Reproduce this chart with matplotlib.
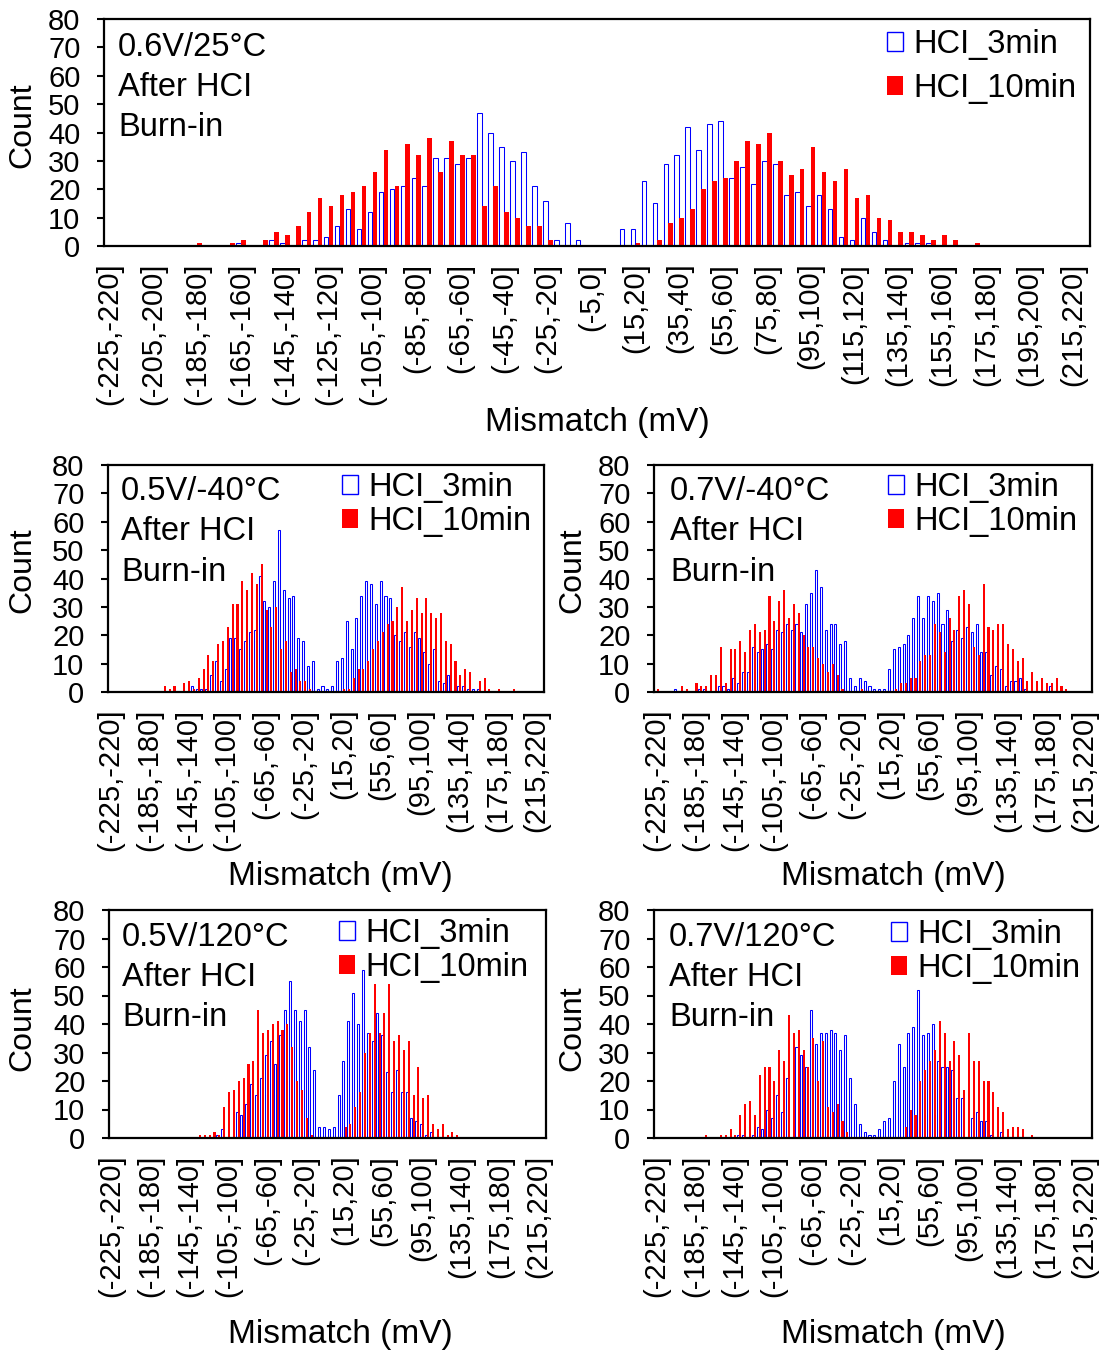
import matplotlib
matplotlib.use("Agg")
import matplotlib.pyplot as plt
from matplotlib.patches import Patch
import numpy as np

plt.rcParams['font.family'] = ['Liberation Sans', 'DejaVu Sans']

# Mismatch bins (mV): (-225,-220] ... (215,220]
bin_lows = list(range(-225, 220, 5))
bin_labels = [f"({lo},{lo + 5}]" for lo in bin_lows]

# Counts per bin, 89 bins each
v06_25c_3min = [
    0, 0, 0, 0, 0, 0, 0, 0, 0, 0,
    0, 0, 1, 0, 0, 2, 1, 0, 2, 2,
    3, 7, 13, 6, 12, 19, 20, 21, 24, 21,
    31, 31, 29, 31, 47, 40, 35, 30, 33, 21,
    16, 2, 8, 2, 0, 0, 0, 6, 6, 23,
    15, 29, 32, 42, 34, 43, 44, 24, 28, 22,
    30, 29, 18, 19, 14, 18, 13, 3, 2, 10,
    5, 2, 0, 1, 1, 1, 0, 0, 0, 0,
    0, 0, 0, 0, 0, 0, 0, 0, 0]
v06_25c_10min = [
    0, 0, 0, 0, 0, 0, 0, 0, 1, 0,
    0, 1, 2, 0, 2, 5, 4, 7, 12, 17,
    14, 18, 19, 21, 26, 34, 21, 36, 32, 38,
    26, 37, 32, 32, 14, 21, 12, 10, 7, 7,
    2, 0, 0, 0, 0, 0, 0, 0, 1, 0,
    2, 8, 10, 13, 20, 23, 24, 30, 37, 36,
    40, 30, 25, 27, 35, 26, 23, 27, 17, 18,
    10, 9, 5, 5, 4, 2, 4, 2, 0, 1,
    0, 0, 0, 0, 0, 0, 0, 0, 0]

v05_m40c_3min = [
    0, 0, 0, 0, 0, 0, 0, 0, 0, 0,
    0, 0, 0, 0, 0, 0, 0, 2, 1, 1,
    1, 6, 11, 4, 8, 19, 19, 15, 18, 21,
    22, 41, 32, 30, 39, 57, 36, 33, 34, 19,
    18, 9, 11, 1, 2, 1, 2, 11, 12, 25,
    15, 26, 34, 39, 38, 31, 39, 34, 33, 20,
    18, 21, 16, 21, 19, 14, 10, 15, 4, 3,
    6, 0, 2, 2, 1, 1, 1, 0, 0, 0,
    0, 0, 0, 0, 0, 0, 0, 0, 0]
v05_m40c_10min = [
    0, 0, 0, 0, 0, 0, 0, 0, 0, 0,
    0, 2, 1, 2, 0, 3, 4, 1, 5, 8,
    13, 11, 17, 18, 23, 31, 31, 39, 36, 42,
    38, 45, 29, 23, 30, 15, 18, 7, 8, 4,
    4, 1, 0, 0, 0, 0, 0, 0, 1, 1,
    5, 8, 8, 11, 15, 18, 21, 24, 25, 30,
    37, 25, 29, 33, 28, 33, 28, 26, 28, 18,
    17, 11, 6, 8, 7, 0, 4, 5, 1, 0,
    1, 0, 0, 1, 0, 0, 0, 0, 0]

v07_m40c_3min = [
    0, 0, 0, 0, 1, 0, 0, 0, 0, 1,
    1, 0, 0, 2, 2, 1, 5, 3, 7, 7,
    16, 14, 15, 17, 15, 22, 21, 24, 22, 24,
    21, 31, 35, 43, 37, 22, 24, 24, 17, 18,
    5, 2, 5, 4, 2, 1, 1, 1, 8, 15,
    16, 17, 20, 26, 34, 26, 34, 32, 35, 24,
    29, 18, 22, 19, 23, 21, 24, 14, 14, 6,
    9, 8, 2, 4, 4, 5, 1, 0, 0, 0,
    0, 2, 0, 0, 0, 0, 0, 0, 0]
v07_m40c_10min = [
    1, 0, 0, 0, 0, 2, 1, 0, 3, 2,
    2, 6, 6, 16, 3, 15, 15, 18, 14, 22,
    24, 21, 22, 34, 25, 32, 36, 26, 31, 28,
    20, 16, 16, 12, 10, 7, 10, 6, 1, 0,
    0, 0, 1, 0, 0, 0, 0, 0, 0, 1,
    3, 3, 5, 5, 11, 13, 13, 24, 21, 14,
    26, 22, 34, 36, 31, 16, 13, 38, 23, 22,
    24, 24, 17, 15, 11, 12, 4, 7, 4, 5,
    3, 3, 5, 2, 1, 0, 0, 0, 0]

v05_120c_3min = [
    0, 0, 0, 0, 0, 0, 0, 0, 0, 0,
    0, 0, 0, 0, 0, 0, 0, 0, 0, 0,
    0, 0, 1, 3, 0, 0, 9, 8, 12, 19,
    15, 21, 29, 34, 26, 36, 45, 55, 45, 41,
    45, 32, 24, 4, 4, 3, 4, 15, 27, 41,
    51, 40, 59, 37, 34, 44, 36, 23, 16, 24,
    16, 16, 7, 6, 5, 1, 2, 0, 0, 0,
    0, 0, 0, 0, 0, 0, 0, 0, 0, 0,
    0, 0, 0, 0, 0, 0, 0, 0, 0]
v05_120c_10min = [
    0, 0, 0, 0, 0, 0, 0, 0, 0, 0,
    0, 0, 0, 0, 0, 0, 0, 0, 1, 1,
    1, 2, 1, 11, 16, 17, 20, 21, 26, 27,
    45, 37, 38, 40, 41, 38, 40, 32, 20, 17,
    7, 1, 0, 0, 0, 0, 0, 0, 4, 5,
    11, 16, 30, 37, 54, 37, 44, 54, 34, 36,
    31, 34, 15, 25, 14, 15, 5, 3, 5, 1,
    2, 1, 0, 0, 0, 0, 0, 0, 0, 0,
    0, 0, 0, 0, 0, 0, 0, 0, 0]

v07_120c_3min = [
    0, 0, 0, 0, 0, 0, 0, 0, 0, 0,
    0, 0, 0, 0, 0, 0, 0, 1, 1, 0,
    1, 4, 3, 10, 7, 15, 9, 21, 0, 32,
    29, 25, 45, 33, 37, 37, 38, 37, 31, 36,
    21, 12, 5, 2, 1, 1, 3, 6, 7, 20,
    33, 25, 37, 39, 52, 36, 37, 40, 27, 25,
    25, 24, 14, 14, 0, 7, 9, 6, 6, 1,
    0, 2, 0, 0, 0, 0, 0, 0, 0, 0,
    0, 0, 0, 0, 0, 0, 0, 0, 0]
v07_120c_10min = [
    0, 0, 0, 0, 0, 0, 0, 0, 0, 0,
    1, 0, 0, 1, 1, 3, 1, 8, 12, 13,
    8, 22, 25, 25, 20, 31, 27, 43, 37, 38,
    31, 25, 35, 20, 34, 11, 9, 12, 6, 2,
    0, 0, 0, 0, 0, 0, 0, 0, 0, 0,
    0, 4, 10, 8, 20, 24, 27, 31, 41, 37,
    27, 34, 29, 17, 37, 27, 27, 20, 20, 16,
    11, 9, 3, 4, 4, 3, 0, 1, 0, 0,
    0, 0, 0, 0, 0, 0, 0, 0, 0]

series_names = ["HCI_3min", "HCI_10min"]
y_ticks = list(range(0, 81, 10))

W, H = 1103, 1356
BLUE = "#0000FF"
RED = "#FF0000"

fig = plt.figure(figsize=(W / 100, H / 100), dpi=100)


def fx(x):
    return x / W


def fy(y):
    return 1 - y / H


def panel(box, blue, red, step, cond, legend_xy, legend_gap, count_xy, xlabel_xy):
    x0, y0, x1, y1 = box
    ax = fig.add_axes([fx(x0), fy(y1), fx(x1) - fx(x0), fy(y0) - fy(y1)])
    idx = np.arange(len(bin_labels))
    ax.bar(idx - 0.22, blue, width=0.42, facecolor="white",
           edgecolor=BLUE, linewidth=0.75, zorder=2)
    ax.bar(idx + 0.23, red, width=0.42, color=RED, linewidth=0, zorder=2)
    ax.set_xlim(-0.5, len(bin_labels) + 0.5)
    ax.set_ylim(0, 80)
    ax.set_yticks(y_ticks)
    ax.set_xticks(idx[::step])
    ax.set_xticklabels(bin_labels[::step], rotation=90, fontsize=21)
    ax.tick_params(axis="x", length=0, pad=12)
    ax.tick_params(axis="y", length=5, width=1.5, pad=12, labelsize=21)
    for s in ax.spines.values():
        s.set_linewidth(1.6)
        s.set_zorder(5)
    # condition text
    tx, ty, dy = cond[1]
    for k, line in enumerate(cond[0]):
        fig.text(fx(tx), fy(ty + k * dy), line, fontsize=23.5,
                 ha="left", va="center")
    handles = [Patch(facecolor="white", edgecolor=BLUE, linewidth=1.0),
               Patch(facecolor=RED, edgecolor=RED, linewidth=0)]
    ax.legend(handles, series_names, loc="upper left",
              bbox_to_anchor=(fx(legend_xy[0]), fy(legend_xy[1])),
              bbox_transform=fig.transFigure, frameon=False, fontsize=23.5,
              handlelength=0.5, handleheight=0.5, handletextpad=0.32,
              labelspacing=legend_gap, borderpad=0, borderaxespad=0)
    fig.text(fx(count_xy[0]), fy(count_xy[1]), "Count", rotation=90,
             fontsize=23, ha="center", va="center")
    fig.text(fx(xlabel_xy[0]), fy(xlabel_xy[1]), "Mismatch (mV)",
             fontsize=24, ha="center", va="center")
    return ax


panel((104, 19, 1090, 246), v06_25c_3min, v06_25c_10min, 4,
      (["0.6V/25°C", "After HCI", "Burn-in"], (118, 47, 40)),
      (887, 29), 0.41, (22, 125), (597, 423))
panel((108, 465, 544, 692), v05_m40c_3min, v05_m40c_10min, 8,
      (["0.5V/-40°C", "After HCI", "Burn-in"], (121, 492, 40)),
      (342, 472), 0.10, (22, 570), (340, 877))
panel((654, 465, 1092, 692), v07_m40c_3min, v07_m40c_10min, 8,
      (["0.7V/-40°C", "After HCI", "Burn-in"], (670, 492, 40)),
      (888, 472), 0.10, (572, 570), (893, 877))
panel((109, 910, 546, 1138), v05_120c_3min, v05_120c_10min, 8,
      (["0.5V/120°C", "After HCI", "Burn-in"], (122, 938, 40)),
      (339, 918), 0.10, (22, 1028), (340, 1335))
panel((654, 910, 1092, 1138), v07_120c_3min, v07_120c_10min, 8,
      (["0.7V/120°C", "After HCI", "Burn-in"], (669, 938, 40)),
      (891, 919), 0.10, (572, 1028), (893, 1335))

fig.savefig("out.png", dpi=100)
